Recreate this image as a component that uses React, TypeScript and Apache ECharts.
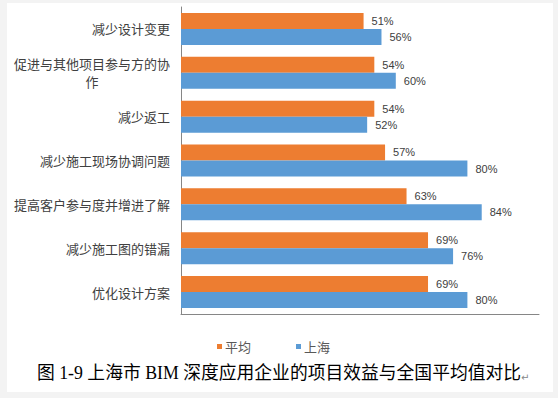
import React, { useEffect, useRef } from "react";
import * as echarts from "echarts";

const categories = [
  "减少设计变更",
  "促进与其他项目参与方的协作",
  "减少返工",
  "减少施工现场协调问题",
  "提高客户参与度并增进了解",
  "减少施工图的错漏",
  "优化设计方案",
];
const avgValues = [51, 54, 54, 57, 63, 69, 69];
const shanghaiValues = [56, 60, 52, 80, 84, 76, 80];
const seriesNames = ["平均", "上海"];
const caption = "图 1-9 上海市 BIM 深度应用企业的项目效益与全国平均值对比";

export default function App() {
  const ref = useRef<HTMLDivElement>(null);
  useEffect(() => {
    document.body.style.margin = "0";
    const chart = echarts.init(ref.current!, null, { renderer: "svg" });
    const labelStyle = {
      show: true,
      position: "right",
      distance: 8,
      formatter: "{c}%",
      color: "#404040",
      fontSize: 11,
      fontFamily: "Liberation Sans, Arial, sans-serif",
    };
    chart.setOption({
      animation: false,
      backgroundColor: "#f3f3f3",
      graphic: [
        {
          type: "rect",
          z: -10,
          shape: { x: 7, y: 3, width: 546, height: 389 },
          style: { fill: "#ffffff" },
          silent: true,
        },
        {
          type: "text",
          left: 37,
          top: 364,
          style: {
            text: caption,
            fontSize: 17.8,
            fontFamily: "Liberation Serif, Noto Sans CJK SC, serif",
            fill: "#000000",
          },
        },
        {
          type: "text",
          left: 521,
          top: 372,
          style: { text: "↵", fontSize: 10, fill: "#888888", fontFamily: "DejaVu Sans" },
        },
      ],
      grid: { left: 181, top: 7, width: 358, height: 307, containLabel: false },
      legend: {
        left: 212,
        top: 335,
        itemWidth: 5,
        itemHeight: 5,
        itemGap: 45,
        icon: "rect",
        textStyle: {
          color: "#595959",
          fontSize: 13,
          fontFamily: "Noto Sans CJK SC",
          padding: [0, 0, 0, -2],
        },
        data: seriesNames,
      },
      xAxis: {
        type: "value",
        min: 0,
        max: 100,
        axisLabel: { show: false },
        splitLine: { show: false },
        axisTick: { show: false },
        axisLine: { show: true, lineStyle: { color: "#868686", width: 1 } },
      },
      yAxis: {
        type: "category",
        inverse: true,
        data: categories,
        axisTick: { show: false },
        axisLine: { show: true, lineStyle: { color: "#868686", width: 1 } },
        axisLabel: {
          margin: 11,
          color: "#404040",
          fontSize: 13,
          fontFamily: "Noto Sans CJK SC",
          formatter: (v: string) =>
            v.length > 12 ? `{w|${v.slice(0, 12)}}\n{w|${v.slice(12)}}` : v,
          rich: {
            w: { width: 156, align: "center", fontSize: 13, color: "#404040", fontFamily: "Noto Sans CJK SC", lineHeight: 18 },
          },
        },
      },
      series: [
        {
          name: seriesNames[0],
          type: "bar",
          data: avgValues,
          barGap: "0%",
          barCategoryGap: "27%",
          itemStyle: { color: "#ED7D31" },
          label: labelStyle,
        },
        {
          name: seriesNames[1],
          type: "bar",
          data: shanghaiValues,
          barGap: "0%",
          barCategoryGap: "27%",
          itemStyle: { color: "#5B9BD5" },
          label: labelStyle,
        },
      ],
    });
    return () => chart.dispose();
  }, []);
  return (
    <div
      ref={ref}
      style={{ width: 558, height: 398, position: "absolute", left: 0, top: 0 }}
    />
  );
}
